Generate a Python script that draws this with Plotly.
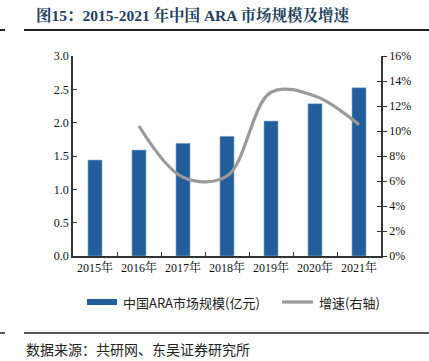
import plotly.graph_objects as go

years = ["2015年", "2016年", "2017年", "2018年", "2019年", "2020年", "2021年"]
market_size = [1.44, 1.59, 1.69, 1.795, 2.025, 2.285, 2.525]
growth_years = ["2016年", "2017年", "2018年", "2019年", "2020年", "2021年"]
growth = [10.4, 6.3, 6.4, 13.1, 12.8, 10.5]

left_ticks = [0.0, 0.5, 1.0, 1.5, 2.0, 2.5, 3.0]
right_ticks = [0, 2, 4, 6, 8, 10, 12, 14, 16]

SERIF = "Liberation Serif, Times New Roman, Noto Serif CJK SC, Noto Sans CJK SC, serif"
CJK = "Noto Sans CJK SC, sans-serif"

L, R, T, B = 73, 48, 56, 105
PW, PH = 429 - L - R, 361 - T - B

def px(x):
    return (x - L) / PW

def py(y):
    return 1 - (y - T) / PH

fig = go.Figure()
fig.add_trace(go.Bar(
    x=years, y=market_size, name="中国ARA市场规模(亿元)",
    marker=dict(color="#215E9B", line=dict(color="#9DB6D3", width=0.6)),
    width=0.32, yaxis="y", showlegend=False,
))
fig.add_trace(go.Scatter(
    x=growth_years, y=growth, name="增速(右轴)", mode="lines",
    line=dict(color="#9A9A9A", width=3.2, shape="spline", smoothing=1.0),
    yaxis="y2", showlegend=False,
))
fig.add_trace(go.Scatter(x=[years[0]], y=[0], yaxis="y3", mode="markers",
                         marker=dict(opacity=0), showlegend=False, hoverinfo="skip"))

tickfont = dict(family=SERIF, size=12, color="#111")
fig.update_layout(
    width=429, height=361,
    margin=dict(l=L, r=R, t=T, b=B, autoexpand=False),
    paper_bgcolor="white", plot_bgcolor="white",
    showlegend=False,
    xaxis=dict(
        type="category", showline=True, linecolor="#333", linewidth=1.5,
        ticks="inside", tickson="boundaries", ticklen=4, tickcolor="#333",
        tickfont=tickfont, tickangle=0, automargin=False,
        showgrid=False, zeroline=False,
    ),
    yaxis=dict(
        range=[0, 3.0], tickvals=left_ticks,
        ticktext=[f"{v:.1f}" for v in left_ticks],
        showline=True, linecolor="#333", linewidth=1.5,
        ticks="inside", ticklen=4, tickcolor="#333",
        tickfont=tickfont, automargin=False,
        showgrid=False, zeroline=False,
    ),
    yaxis2=dict(
        range=[0, 16], tickvals=right_ticks,
        ticktext=[f"{v}%" for v in right_ticks],
        overlaying="y", side="right",
        showline=True, linecolor="#333", linewidth=1.5,
        ticks="outside", ticklen=4, tickcolor="#333",
        tickfont=tickfont, automargin=False,
        showgrid=False, zeroline=False,
    ),
    yaxis3=dict(
        range=[0, 16], tickvals=right_ticks, overlaying="y", side="right",
        showticklabels=False, ticks="inside", ticklen=4, tickcolor="#333",
        showline=False, showgrid=False, zeroline=False, automargin=False,
    ),
)

fig.add_annotation(
    text="<b>图15：2015-2021 年中国 ARA 市场规模及增速</b>",
    xref="paper", yref="paper", x=px(34), xanchor="left",
    y=py(15), yanchor="middle", showarrow=False,
    font=dict(family=SERIF, size=15.5, color="#243F60"),
)
fig.add_annotation(
    text="数据来源：共研网、东吴证券研究所",
    xref="paper", yref="paper", x=px(24), xanchor="left",
    y=py(349), yanchor="middle", showarrow=False,
    font=dict(family=CJK, size=14, color="#222"),
)

# custom legend
fig.add_shape(type="rect", xref="paper", yref="paper",
              x0=px(87), x1=px(117), y0=py(305), y1=py(299),
              fillcolor="#215E9B", line=dict(width=0))
fig.add_annotation(text="中国ARA市场规模(亿元)", xref="paper", yref="paper",
                   x=px(121), xanchor="left", y=py(302), yanchor="middle",
                   showarrow=False, font=dict(family=CJK, size=13, color="#222"))
fig.add_shape(type="line", xref="paper", yref="paper",
              x0=px(282), x1=px(313), y0=py(302), y1=py(302),
              line=dict(color="#9A9A9A", width=3.2))
fig.add_annotation(text="增速(右轴)", xref="paper", yref="paper",
                   x=px(317), xanchor="left", y=py(302), yanchor="middle",
                   showarrow=False, font=dict(family=CJK, size=13, color="#222"))

def hline(y_px, x0, x1, w=2):
    fig.add_shape(type="line", xref="paper", yref="paper",
                  x0=px(x0), x1=px(x1), y0=py(y_px), y1=py(y_px),
                  line=dict(color="#222", width=w))

hline(30, 0, 5)
hline(30, 24, 429)
hline(333, 0, 5, 1.5)
hline(333, 24, 429, 1.5)

fig.write_html("out.html", config={"displayModeBar": False},
               post_script="document.body.style.margin='0';document.body.style.overflow='hidden';")
